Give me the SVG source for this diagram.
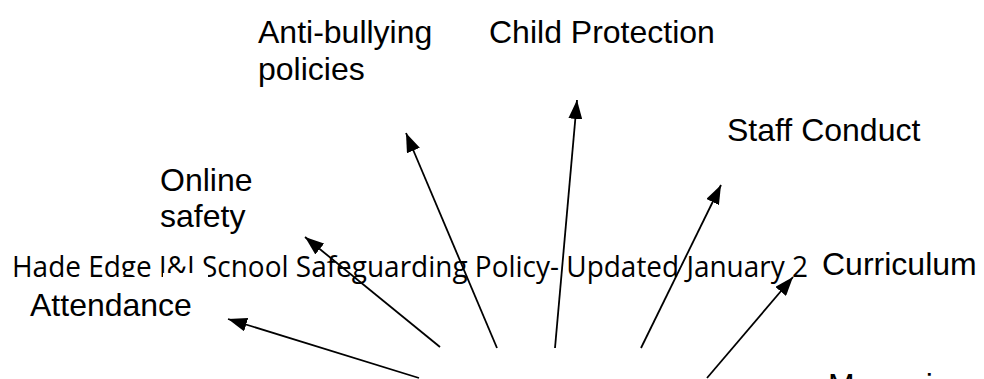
<svg xmlns="http://www.w3.org/2000/svg" width="984" height="379" viewBox="0 0 984 379">
<style>
.lbl{font-family:"Liberation Sans",Arial,sans-serif;font-size:32px;fill:#000}
.hdr{font-family:"Open Sans","Noto Sans",sans-serif;font-size:30px;fill:#000}
.con{stroke:#000;stroke-width:1.8;fill:none;marker-end:url(#ah)}
</style>
<defs>
<marker id="ah" markerUnits="userSpaceOnUse" markerWidth="20" markerHeight="14" refX="19" refY="7" orient="auto">
<path d="M0,0 L19,7 L0,14 z" fill="#000"/>
</marker>
<clipPath id="hc">
<rect x="0" y="245" width="163" height="32"/>
<rect x="163" y="256" width="45" height="17"/>
<rect x="208" y="245" width="22" height="32"/>
<rect x="230" y="260" width="17" height="17"/>
<rect x="247" y="245" width="28" height="32"/>
<rect x="275" y="245" width="709" height="40"/>
</clipPath>
</defs>
<rect width="984" height="379" fill="#fff"/>
<g id="header">
<text class="hdr" x="12" y="277" textLength="796" lengthAdjust="spacingAndGlyphs" clip-path="url(#hc)">Hade Edge J&amp;I School Safeguarding Policy- Updated January 2</text>
</g>
<g id="connectors">
<line class="con" x1="419" y1="378" x2="228" y2="319"/>
<line class="con" x1="440" y1="347" x2="305" y2="237"/>
<line class="con" x1="497" y1="348" x2="406" y2="133"/>
<line class="con" x1="555" y1="348" x2="577" y2="100"/>
<line class="con" x1="641" y1="348" x2="721" y2="185"/>
<line class="con" x1="707" y1="378" x2="793" y2="277"/>
</g>
<g id="node-anti-bullying"><text class="lbl" x="258" y="43">Anti-bullying</text><text class="lbl" x="258" y="80">policies</text></g>
<g id="node-child-protection"><text class="lbl" x="489" y="43">Child Protection</text></g>
<g id="node-staff-conduct"><text class="lbl" x="727" y="141">Staff Conduct</text></g>
<g id="node-online-safety"><text class="lbl" x="160" y="191">Online</text><text class="lbl" x="160" y="227">safety</text></g>
<g id="node-curriculum"><text class="lbl" x="822" y="275">Curriculum</text></g>
<g id="node-attendance"><text class="lbl" x="30" y="316">Attendance</text></g>
<g id="node-managing"><text class="lbl" x="828" y="396">Managing</text></g>
</svg>
